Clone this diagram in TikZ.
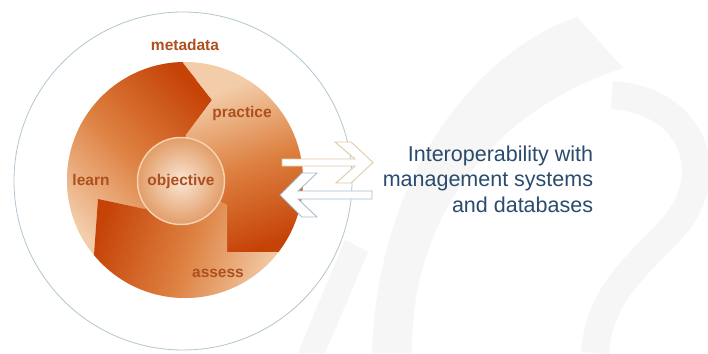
\documentclass[tikz,border=0pt]{standalone}
\usepackage{fontspec}
\setmainfont{Liberation Sans}
\definecolor{darkor}{HTML}{C64308}
\definecolor{midor}{HTML}{DD8040}
\definecolor{lightor}{HTML}{F3CDAA}
\definecolor{labelcol}{HTML}{AE4F1E}
\definecolor{ringcol}{HTML}{B3C6D0}
\definecolor{textblue}{HTML}{2A4B6E}
\definecolor{tanline}{HTML}{E0CBA8}
\definecolor{blueline}{HTML}{A6C0D0}
\definecolor{wmark}{HTML}{F6F6F6}
\definecolor{sphin}{HTML}{FAE6D4}
\definecolor{sphout}{HTML}{E29D68}
\definecolor{sphrim}{HTML}{F3D2B2}
\begin{document}
\begin{tikzpicture}[x=1pt,y=-1pt,
  lbl/.style={font=\fontsize{15.5}{18}\selectfont\bfseries, text=labelcol, inner sep=0pt},
  hollowarrow/.style={fill=white, line width=0.9pt, line join=miter},
  interop/.style={font=\fontsize{21.5}{25.7}\selectfont, text=textblue, align=right, inner sep=0pt}]
\useasboundingbox (0,0) rectangle (708,353);
\fill[white] (0,0) rectangle (708,353);
% faint watermark
\fill[wmark] (577,17) .. controls (480,50) and (378,170) .. (372,353) -- (412,353) .. controls (410,230) and (480,115) .. (623,68) -- cycle;
\draw[wmark, line width=28pt] (612,95) .. controls (690,100) and (720,170) .. (675,225) .. controls (640,265) and (600,290) .. (595,353);
\fill[wmark] (345,240) -- (368,252) -- (325,353) -- (298,353) -- cycle;
% outer ring
\draw[ringcol, line width=0.8pt] (183,181) circle[radius=169];
% disc
\fill[lightor] (185,180) circle[radius=118];
\begin{scope}
  \clip (185,180) circle[radius=118];
  \begin{scope}
    \clip (181,181) -- (145,209) -- (98,199) -- (94,255) -- (90,311) -- (0,353) -- (0,0) -- (180,0) -- (180,20) -- (183,63) -- (212,100) -- (186,135) -- cycle;
    \shade[top color=darkor, bottom color=lightor, middle color=midor, shading angle=-45] (60,55) rectangle (215,265);
  \end{scope}
  \begin{scope}
    \clip (181,181) -- (186,135) -- (212,100) -- (183,63) -- (180,20) -- (180,0) -- (400,0) -- (400,252) -- (227,252) -- (227,205) -- cycle;
    \shade[top color=lightor, bottom color=darkor, middle color=midor, shading angle=20] (180,80) rectangle (305,255);
  \end{scope}
  \begin{scope}
    \clip (181,181) -- (227,205) -- (227,252) -- (400,252) -- (400,353) -- (0,353) -- (90,311) -- (94,255) -- (98,199) -- (145,209) -- cycle;
    \shade[top color=darkor, bottom color=lightor, middle color=midor, shading angle=70] (85,195) rectangle (290,300);
  \end{scope}
\end{scope}
% sphere
\node (objective) [circle, minimum size=87pt, draw=sphrim, line width=1.5pt, inner color=sphin, outer color=sphout, lbl] at (181,181) {objective};
% labels
\node (metadata) [lbl] at (185,45) {metadata};
\node (practice) [lbl] at (242,113) {practice};
\node (learn) [lbl] at (91,180) {learn};
\node (assess) [lbl] at (218,273) {assess};
% arrows
\draw[hollowarrow, draw=blueline] (372,191) -- (298,191) -- (317,173) -- (302,173) -- (280,195) -- (302,217) -- (317,217) -- (298,199) -- (372,199) -- cycle;
\draw[hollowarrow, draw=tanline] (282,159) -- (355,159) -- (335,142) -- (351,142) -- (373,162.5) -- (351,183) -- (336,183) -- (355,166) -- (282,166) -- cycle;
% text
\node (interoptext) [interop, anchor=north east] at (593.3,145.5) {Interoperability with\\management systems\\and databases};
\end{tikzpicture}
\end{document}
